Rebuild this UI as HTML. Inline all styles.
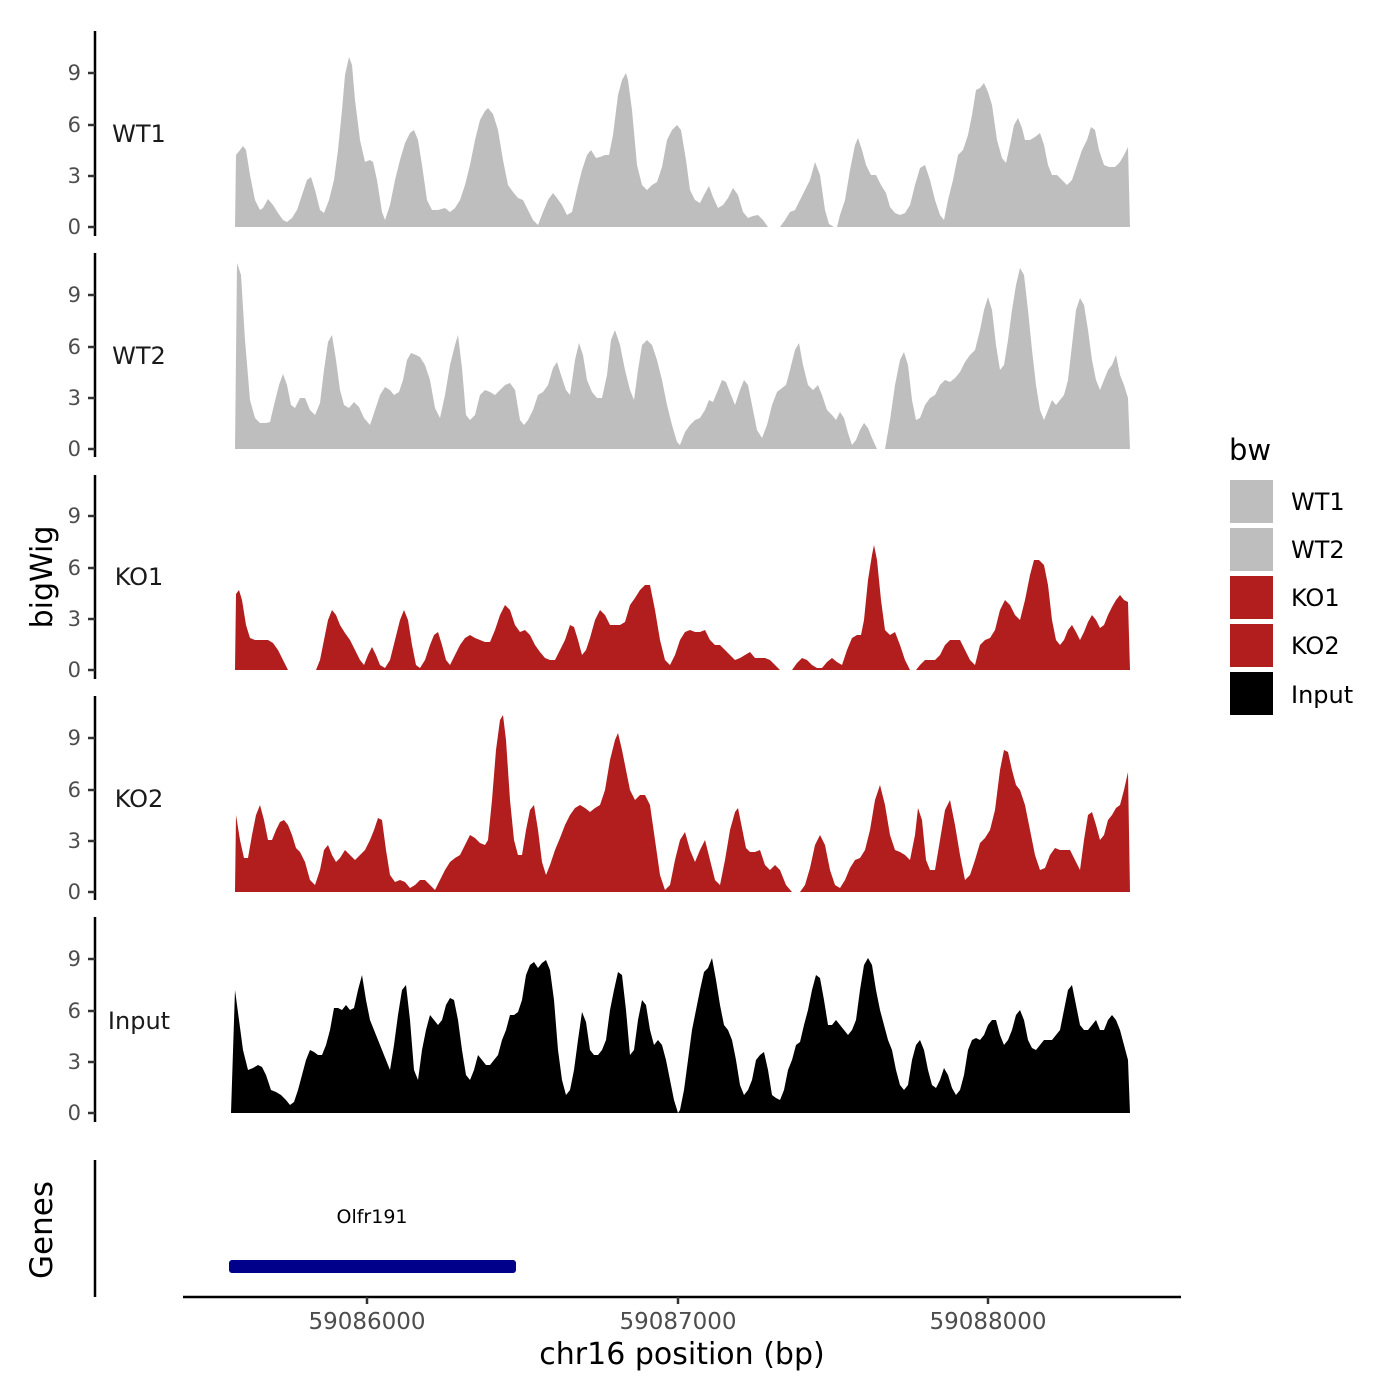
<!DOCTYPE html>
<html><head><meta charset="utf-8"><style>
html,body{margin:0;padding:0;background:#fff}
svg{display:block}
text{font-family:"DejaVu Sans","Liberation Sans",sans-serif}
.tk{fill:#4d4d4d;font-size:21px;text-anchor:end}
.xt{fill:#4d4d4d;font-size:23px;text-anchor:middle}
.pl{fill:#1a1a1a;font-size:24px;text-anchor:middle}
.lg{fill:#000;font-size:24px}
</style></head><body>
<svg width="1400" height="1400" viewBox="0 0 1400 1400" xmlns="http://www.w3.org/2000/svg">
<rect width="1400" height="1400" fill="#fff"/>
<!-- WT1 -->
<polygon fill="#bebebe" points="235,227 236,155 240,150 243,146 246,150 250,175 255,200 260,210 263,208 268,199 273,205 278,213 283,220 287,222 292,218 297,210 302,195 307,180 311,177 315,190 320,210 324,213 329,200 334,180 338,150 342,110 345,75 349,57 352,65 355,100 360,140 365,162 370,160 373,162 377,180 382,212 385,220 390,205 395,180 400,160 405,143 410,133 414,130 418,140 422,165 427,200 432,210 438,210 445,208 450,212 455,208 460,200 465,185 470,165 475,140 480,120 485,111 488,108 493,114 498,130 503,160 508,185 513,192 518,198 523,200 528,210 533,220 538,225 543,212 548,200 553,193 557,198 562,205 567,215 572,212 577,190 582,170 587,155 591,150 596,158 600,157 605,155 609,155 613,135 618,95 622,80 626,73 628,80 632,110 637,165 642,185 647,190 652,185 657,182 662,167 667,140 672,130 677,125 681,130 686,160 690,190 695,200 700,203 704,195 709,186 713,197 718,208 723,205 728,198 733,188 738,195 743,212 748,218 753,216 758,215 763,220 768,227 780,227 785,220 790,212 795,210 800,200 805,190 810,180 815,162 820,175 825,210 829,224 834,227 837,227 840,215 845,200 850,170 855,145 858,138 862,150 866,165 871,175 876,175 881,185 886,193 890,207 895,213 900,215 905,213 910,205 915,185 920,168 925,165 930,180 935,200 940,215 944,220 948,200 953,180 958,155 963,150 968,135 972,115 976,90 980,88 984,83 988,92 992,105 997,140 1002,158 1006,163 1010,145 1014,125 1018,118 1022,128 1025,140 1030,140 1035,137 1040,133 1044,145 1048,165 1052,175 1057,175 1062,180 1067,185 1072,180 1077,165 1082,150 1087,140 1091,127 1095,130 1099,150 1104,165 1109,167 1115,167 1120,162 1124,155 1128,147 1130,227"/>
<!-- WT2 -->
<polygon fill="#bebebe" points="235,449 237,263 241,275 245,340 250,400 255,418 260,423 266,423 270,422 274,405 279,385 283,374 287,385 291,405 295,408 300,398 305,398 310,410 315,415 320,403 324,370 328,342 332,335 336,360 340,390 344,405 349,408 354,402 359,407 364,418 370,425 375,410 380,395 385,387 390,390 394,395 399,392 403,380 407,360 411,353 416,355 420,357 425,365 430,380 435,408 440,418 445,395 450,365 455,345 458,335 462,368 466,415 470,420 475,415 480,395 485,390 490,392 495,395 500,390 505,385 510,383 515,390 520,420 524,425 528,420 533,410 538,395 543,392 548,385 553,368 557,362 561,375 566,390 570,395 575,360 579,343 583,355 587,380 592,392 597,398 602,398 607,375 611,340 615,330 620,345 625,370 630,390 634,400 638,370 642,345 647,340 652,345 657,360 662,380 667,405 672,425 677,442 680,445 685,432 690,425 695,420 700,418 705,410 709,400 713,402 718,390 722,380 726,382 731,395 735,405 740,390 744,380 748,385 752,405 757,430 762,438 767,425 772,405 777,392 782,388 786,385 790,370 795,350 799,343 803,365 808,385 813,390 818,385 822,395 827,410 832,415 836,420 840,412 844,418 848,433 852,445 856,440 860,430 864,423 868,428 872,438 877,449 885,449 890,420 895,385 900,360 904,352 908,365 912,400 916,420 920,418 925,405 930,398 935,395 940,385 945,380 950,382 955,378 960,372 965,362 970,355 975,350 980,330 984,310 988,297 992,310 996,345 1000,370 1004,365 1008,340 1012,310 1016,285 1020,268 1024,275 1028,310 1032,350 1036,385 1040,410 1044,420 1048,410 1052,400 1056,405 1060,400 1064,395 1068,380 1072,345 1076,310 1080,298 1084,305 1088,330 1092,360 1096,380 1100,390 1104,380 1108,370 1112,365 1116,355 1120,375 1124,385 1128,398 1130,449"/>
<!-- KO1 -->
<polygon fill="#b21e1e" points="235,670 236,594 239,590 242,600 246,625 250,638 255,640 262,640 268,640 273,643 278,650 283,660 288,670 316,670 320,660 324,640 328,620 332,610 336,615 340,625 345,633 350,640 355,650 360,660 364,665 368,655 372,647 376,655 380,665 385,668 390,660 395,640 400,620 404,610 408,620 412,645 416,665 420,668 425,660 430,645 434,635 438,632 442,645 446,660 450,665 455,655 460,645 465,638 470,635 475,638 480,640 485,642 490,642 495,630 500,615 505,605 510,610 515,625 520,632 525,630 530,635 535,645 540,652 545,658 550,660 555,660 560,650 565,640 570,625 574,627 578,640 582,655 586,650 590,638 595,620 600,610 605,615 610,625 615,625 620,625 625,622 630,605 635,598 640,590 645,585 650,585 655,610 660,640 665,660 670,665 675,655 680,640 685,632 690,630 695,632 700,632 705,630 710,640 715,645 720,645 725,650 730,655 735,660 740,658 745,655 750,652 755,658 760,658 765,658 770,660 775,665 780,670 792,670 797,663 802,658 807,660 812,665 817,668 822,668 827,662 832,658 837,662 842,665 847,650 852,638 857,635 861,635 864,620 868,580 872,555 874,545 877,560 881,600 885,630 890,635 895,632 900,645 905,660 910,670 916,670 920,665 925,660 930,660 935,660 940,655 945,645 950,640 955,640 960,640 965,650 970,660 975,665 980,645 985,640 990,638 995,630 1000,610 1005,600 1010,605 1015,615 1020,620 1025,600 1030,575 1034,560 1039,560 1044,565 1048,585 1052,620 1056,640 1060,645 1064,640 1068,630 1072,625 1076,632 1080,640 1084,632 1088,622 1092,615 1096,620 1100,628 1104,625 1108,615 1112,607 1116,600 1120,595 1124,600 1128,602 1130,670"/>
<!-- KO2 -->
<polygon fill="#b21e1e" points="235,892 236,815 240,840 244,858 248,858 252,835 256,815 260,805 264,820 268,840 272,840 276,830 280,822 284,820 288,825 292,835 296,848 300,852 305,862 310,880 315,885 320,870 324,850 328,845 332,855 336,862 340,858 345,850 350,855 355,860 360,855 365,850 370,840 374,830 378,818 382,820 386,850 390,875 395,882 400,880 405,882 410,888 415,885 420,880 425,880 430,885 435,890 440,880 445,870 450,862 455,858 460,855 465,845 470,835 475,838 480,843 485,845 488,840 492,800 496,750 500,720 503,715 506,740 510,800 514,840 518,855 522,855 526,830 530,810 534,805 538,830 542,862 546,875 550,865 555,850 560,838 565,825 570,815 575,808 580,805 585,808 590,812 595,808 600,805 605,790 610,760 615,740 618,733 622,750 626,770 630,790 635,800 640,795 645,795 650,805 655,840 660,875 665,890 670,885 675,860 680,840 685,832 690,850 695,862 700,850 705,840 710,860 715,880 720,885 725,860 730,830 735,812 738,808 742,828 746,848 750,852 755,852 760,850 765,865 770,870 775,865 780,870 786,885 792,892 800,892 805,885 810,868 815,845 820,835 825,845 830,870 835,885 840,888 845,880 850,868 855,860 860,858 865,850 870,830 875,800 880,785 885,805 890,835 895,850 900,852 905,855 910,860 915,835 918,808 922,820 926,860 930,870 935,870 940,840 945,810 950,800 955,825 960,855 965,880 970,875 975,860 980,843 985,838 990,830 995,810 1000,770 1004,750 1008,752 1012,770 1016,785 1020,790 1025,805 1030,830 1035,855 1040,870 1045,868 1050,855 1055,848 1060,850 1065,850 1070,850 1075,860 1080,870 1084,840 1088,815 1092,812 1096,825 1100,840 1104,835 1108,820 1112,815 1116,808 1120,805 1124,790 1128,772 1130,892"/>
<!-- Input -->
<polygon fill="#000" points="231,1113 235,990 239,1020 243,1050 248,1070 253,1068 258,1065 262,1067 266,1075 271,1090 276,1092 281,1095 286,1100 290,1105 294,1102 298,1090 302,1075 306,1060 310,1050 314,1052 318,1055 322,1055 326,1045 330,1030 334,1008 338,1008 342,1010 346,1005 350,1010 354,1008 358,990 362,975 366,1000 370,1020 374,1030 378,1040 382,1050 386,1060 390,1070 394,1045 398,1015 402,990 406,985 410,1020 414,1070 418,1080 422,1050 426,1030 430,1015 434,1020 438,1025 442,1020 446,1005 450,998 454,1000 458,1020 462,1050 466,1075 470,1080 474,1070 478,1055 482,1060 486,1065 490,1065 494,1060 498,1055 502,1040 506,1030 510,1015 514,1015 518,1012 522,1000 526,975 530,965 534,962 538,968 542,963 546,960 550,970 554,1000 558,1050 562,1080 566,1095 570,1090 574,1070 578,1040 582,1012 586,1022 590,1050 594,1055 598,1055 602,1050 606,1040 610,1010 614,990 618,972 622,975 626,1010 630,1055 634,1050 638,1020 642,1000 646,1005 650,1030 654,1045 658,1040 662,1045 666,1060 670,1080 674,1100 678,1113 680,1110 684,1090 688,1060 692,1030 696,1010 700,990 704,972 708,968 712,958 716,980 720,1005 724,1025 728,1030 732,1040 736,1060 740,1085 744,1095 748,1090 752,1080 756,1060 760,1055 764,1052 768,1070 772,1095 776,1098 780,1100 784,1090 788,1070 792,1060 796,1045 800,1042 804,1025 808,1010 812,990 816,975 820,978 824,1000 828,1025 832,1025 836,1020 840,1025 844,1030 848,1035 852,1030 856,1020 860,990 864,965 868,958 872,965 876,990 880,1010 884,1025 888,1040 892,1050 896,1070 900,1085 904,1090 908,1085 912,1060 916,1045 920,1040 924,1050 928,1070 932,1085 936,1088 940,1080 944,1068 948,1075 952,1088 956,1095 960,1090 964,1075 968,1050 972,1040 976,1038 980,1040 984,1035 988,1025 992,1020 996,1020 1000,1035 1004,1045 1008,1040 1012,1030 1016,1015 1020,1010 1024,1020 1028,1040 1032,1048 1036,1050 1040,1045 1044,1040 1048,1040 1052,1040 1056,1035 1060,1030 1064,1010 1068,990 1072,985 1076,1005 1080,1025 1084,1030 1088,1030 1092,1025 1096,1020 1100,1030 1104,1030 1108,1020 1112,1015 1116,1020 1120,1030 1124,1045 1128,1060 1130,1113"/>

<g stroke="#000" stroke-width="2.5">
<line x1="95" y1="31" x2="95" y2="236"/>
<line x1="95" y1="253" x2="95" y2="457"/>
<line x1="95" y1="475" x2="95" y2="679"/>
<line x1="95" y1="696" x2="95" y2="900"/>
<line x1="95" y1="917" x2="95" y2="1122"/>
<line x1="95" y1="1160" x2="95" y2="1297"/>
<line x1="183" y1="1297" x2="1181" y2="1297"/>
</g>
<g stroke="#333" stroke-width="2.5">
<line x1="88" y1="227" x2="95" y2="227"/><line x1="88" y1="176" x2="95" y2="176"/><line x1="88" y1="125" x2="95" y2="125"/><line x1="88" y1="73" x2="95" y2="73"/>
<line x1="88" y1="449" x2="95" y2="449"/><line x1="88" y1="398" x2="95" y2="398"/><line x1="88" y1="347" x2="95" y2="347"/><line x1="88" y1="295" x2="95" y2="295"/>
<line x1="88" y1="670" x2="95" y2="670"/><line x1="88" y1="619" x2="95" y2="619"/><line x1="88" y1="568" x2="95" y2="568"/><line x1="88" y1="516" x2="95" y2="516"/>
<line x1="88" y1="892" x2="95" y2="892"/><line x1="88" y1="841" x2="95" y2="841"/><line x1="88" y1="790" x2="95" y2="790"/><line x1="88" y1="738" x2="95" y2="738"/>
<line x1="88" y1="1113" x2="95" y2="1113"/><line x1="88" y1="1062" x2="95" y2="1062"/><line x1="88" y1="1011" x2="95" y2="1011"/><line x1="88" y1="959" x2="95" y2="959"/>
<line x1="367" y1="1297" x2="367" y2="1304"/><line x1="678" y1="1297" x2="678" y2="1304"/><line x1="988" y1="1297" x2="988" y2="1304"/>
</g>
<g class="tk">
<text x="81" y="234">0</text><text x="81" y="183">3</text><text x="81" y="132">6</text><text x="81" y="80">9</text>
<text x="81" y="456">0</text><text x="81" y="405">3</text><text x="81" y="354">6</text><text x="81" y="302">9</text>
<text x="81" y="677">0</text><text x="81" y="626">3</text><text x="81" y="575">6</text><text x="81" y="523">9</text>
<text x="81" y="899">0</text><text x="81" y="848">3</text><text x="81" y="797">6</text><text x="81" y="745">9</text>
<text x="81" y="1120">0</text><text x="81" y="1069">3</text><text x="81" y="1018">6</text><text x="81" y="966">9</text>
</g>
<g class="xt">
<text x="367" y="1329">59086000</text><text x="678" y="1329">59087000</text><text x="988" y="1329">59088000</text>
</g>
<g class="pl">
<text x="139" y="142">WT1</text><text x="139" y="364">WT2</text><text x="139" y="585">KO1</text><text x="139" y="807">KO2</text><text x="139" y="1029">Input</text>
</g>
<text x="682" y="1364" font-size="30" text-anchor="middle" fill="#000">chr16 position (bp)</text>
<text transform="translate(52,577) rotate(-90)" font-size="30" text-anchor="middle" fill="#000">bigWig</text>
<text transform="translate(52,1230) rotate(-90)" font-size="31" text-anchor="middle" fill="#000">Genes</text>
<rect x="229" y="1260" width="287" height="13" rx="3" fill="#00008b"/>
<text x="372" y="1223" font-size="19" text-anchor="middle" fill="#000">Olfr191</text>
<text x="1229" y="460" font-size="29" fill="#000">bw</text>
<rect x="1230" y="480" width="43" height="43" fill="#bebebe"/>
<rect x="1230" y="528" width="43" height="43" fill="#bebebe"/>
<rect x="1230" y="576" width="43" height="43" fill="#b21e1e"/>
<rect x="1230" y="624" width="43" height="43" fill="#b21e1e"/>
<rect x="1230" y="672" width="43" height="43" fill="#000"/>
<g class="lg">
<text x="1291" y="510">WT1</text><text x="1291" y="558">WT2</text><text x="1291" y="606">KO1</text><text x="1291" y="654">KO2</text><text x="1291" y="703">Input</text>
</g>
</svg>
</body></html>
